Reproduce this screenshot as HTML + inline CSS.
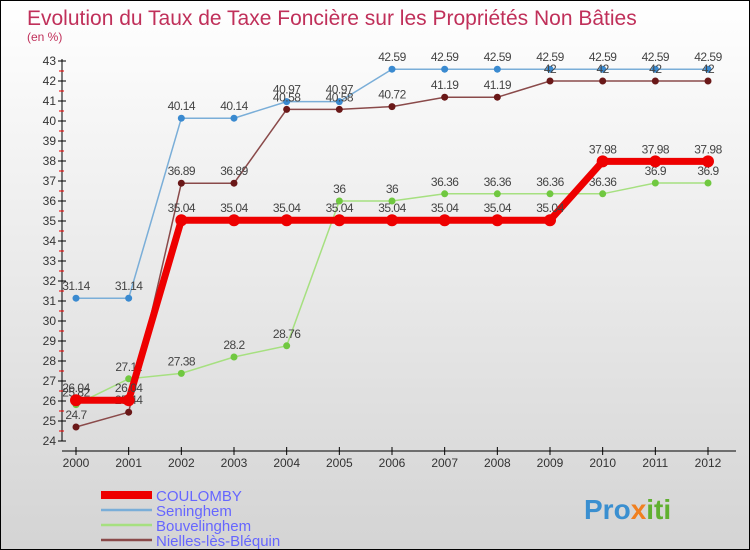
<!DOCTYPE html>
<html><head><meta charset="utf-8"><style>
body{margin:0}
#c{width:750px;height:550px;position:relative;box-sizing:border-box;border:1px solid #000;background:linear-gradient(#fff,#d4d4d4);font-family:"Liberation Sans",sans-serif;overflow:hidden}
svg text{font-family:"Liberation Sans",sans-serif}
</style></head><body>
<div id="c">
<svg id="s" width="750" height="550">
<text x="26" y="24" font-size="21" fill="#c0305a">Evolution du Taux de Taxe Foncière sur les Propriétés Non Bâties</text>
<text x="26" y="40" font-size="12" fill="#c0305a">(en %)</text>
<text x="583" y="518" font-size="28" font-weight="bold" fill="#3a8fd0">Pro<tspan fill="#f08020">x</tspan><tspan fill="#60b030">iti</tspan></text>
</svg></div>
<script>
const years=[2000,2001,2002,2003,2004,2005,2006,2007,2008,2009,2010,2011,2012];
const coulomby=[26.04,26.04,35.04,35.04,35.04,35.04,35.04,35.04,35.04,35.04,37.98,37.98,37.98];
const seninghem=[31.14,31.14,40.14,40.14,40.97,40.97,42.59,42.59,42.59,42.59,42.59,42.59,42.59];
const bouvelinghem=[25.82,27.11,27.38,28.2,28.76,36,36,36.36,36.36,36.36,36.36,36.9,36.9];
const nielles=[24.7,25.44,36.89,36.89,40.58,40.58,40.72,41.19,41.19,42,42,42,42];
const yTicks=[24,25,26,27,28,29,30,31,32,33,34,35,36,37,38,39,40,41,42,43];
const names=["COULOMBY","Seninghem","Bouvelinghem","Nielles-lès-Bléquin"];
const s=document.getElementById('s'),NS='http://www.w3.org/2000/svg';
const X=i=>75+i*(707-75)/12, Y=v=>440-(v-24)*20;
function el(t,a,p){const e=document.createElementNS(NS,t);for(const k in a)e.setAttribute(k,a[k]);(p||s).appendChild(e);return e;}
el('line',{x1:61,y1:58,x2:61,y2:440,stroke:'#000'});
el('line',{x1:61,y1:450,x2:735,y2:450,stroke:'#000'});
yTicks.forEach(v=>{const y=Y(v);
 el('line',{x1:57,y1:y,x2:65,y2:y,stroke:'#000'});
 if(v<43)el('line',{x1:58,y1:y-10,x2:63,y2:y-10,stroke:'#e00'});
 const t=el('text',{x:55,y:y+4,'font-size':12,fill:'#333','text-anchor':'end'});t.textContent=v;
 });
years.forEach((yr,i)=>{const x=X(i);
 el('line',{x1:x,y1:446,x2:x,y2:454,stroke:'#000'});
 const t=el('text',{x:x,y:466,'font-size':12,fill:'#333','text-anchor':'middle'});t.textContent=yr;
 });
const series=[[seninghem,'#7aaed8','#3a8ad0',1.5,3.5],[bouvelinghem,'#a6e080','#70c840',1.5,3.5],[nielles,'#8a4a4a','#6a1818',1.5,3.5],[coulomby,'#ee0000','#ee0000',7,6]];
const sname=['seninghem','bouvelinghem','nielles','coulomby'];
series.forEach(([d,lc,pc,w,r],k)=>{
 const p=el('polyline',{points:d.map((v,i)=>X(i)+','+Y(v)).join(' '),fill:'none',stroke:lc,'stroke-width':w});
 
 d.forEach((v,i)=>{const c=el('circle',{cx:X(i),cy:Y(v),r:r,fill:pc});
  
  const t=el('text',{x:X(i),y:Y(v)-8,'font-size':12,fill:'#444','text-anchor':'middle','letter-spacing':'-0.5'});t.textContent=v;
  });
});
const lg=[['#ee0000',8],['#7aaed8',2.5],['#a6e080',2.5],['#8a4a4a',2.5]];
lg.forEach(([c,w],i)=>{const y=494+i*15;
 const g=el('g',{});
 el('line',{x1:100,y1:y,x2:151,y2:y,stroke:c,'stroke-width':w},g);
 const t=el('text',{x:155,y:y+6,'font-size':15,fill:'#6666ff'},g);t.textContent=names[i];});
</script>
</body></html>
